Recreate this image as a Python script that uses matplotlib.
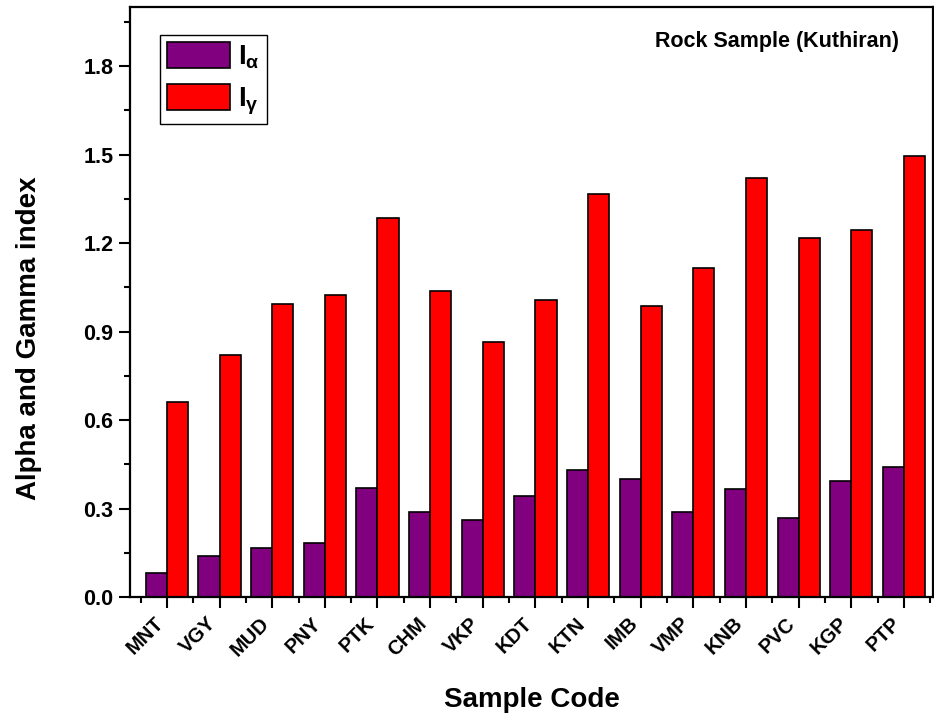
import numpy as np
import matplotlib.pyplot as plt
import matplotlib.transforms as mtransforms
from matplotlib.ticker import MultipleLocator, FixedLocator

plt.rcParams['font.family'] = ['Liberation Sans', 'DejaVu Sans']
plt.rcParams['font.weight'] = 'bold'
plt.rcParams['mathtext.fontset'] = 'custom'
plt.rcParams['mathtext.rm'] = 'Liberation Sans'
plt.rcParams['mathtext.bf'] = 'Liberation Sans:bold'
plt.rcParams['mathtext.it'] = 'Liberation Sans:italic'

# sample codes and indices
samples = ['MNT', 'VGY', 'MUD', 'PNY', 'PTK', 'CHM', 'VKP', 'KDT',
           'KTN', 'IMB', 'VMP', 'KNB', 'PVC', 'KGP', 'PTP']
i_alpha = [0.080, 0.140, 0.166, 0.184, 0.370, 0.289, 0.260, 0.343,
           0.430, 0.400, 0.289, 0.367, 0.269, 0.395, 0.441]
i_gamma = [0.662, 0.821, 0.993, 1.024, 1.285, 1.038, 0.864, 1.007,
           1.367, 0.987, 1.116, 1.421, 1.217, 1.243, 1.497]

x = np.arange(1, len(samples) + 1)
w = 0.4

fig = plt.figure(figsize=(9.34, 7.15), dpi=100)
ax = fig.add_axes([0.1392, 0.165, 0.8597, 0.825])

ax.bar(x - w / 2, i_alpha, w, color='#800080', edgecolor='black', linewidth=1.2,
       label=r'$\mathbf{I}_{\mathrm{\alpha}}$')
ax.bar(x + w / 2, i_gamma, w, color='#ff0000', edgecolor='black', linewidth=1.2,
       label=r'$\mathbf{I}_{\mathrm{\gamma}}$')

ax.set_xlim(0.3, 15.55)
ax.set_ylim(0, 2.0)

ax.yaxis.set_major_locator(FixedLocator(np.arange(0, 1.81, 0.3)))
ax.yaxis.set_minor_locator(FixedLocator(np.arange(0.15, 1.96, 0.3)))
ax.set_yticklabels([f'{v:.1f}' for v in np.arange(0, 1.81, 0.3)], fontsize=15.5, fontweight='bold')

ax.tick_params(which='major', direction='out', length=8, width=1.5, pad=4)
ax.tick_params(which='minor', direction='out', length=4.5, width=1.5)
ax.tick_params(top=False, right=False, which='both')

ax.set_xticks(x)
ax.xaxis.set_minor_locator(MultipleLocator(1, offset=0.5))
ax.set_xticklabels(samples, rotation=45, ha='right', rotation_mode='anchor',
                   fontsize=14.5, fontweight='bold')
# nudge the slanted labels a little to the left of their ticks
shift = mtransforms.ScaledTranslation(-0.13, 0, fig.dpi_scale_trans)
for lbl in ax.xaxis.get_majorticklabels():
    lbl.set_transform(lbl.get_transform() + shift)

for s in ax.spines.values():
    s.set_linewidth(1.6)

ax.set_xlabel('Sample Code', fontsize=20, fontweight='bold', labelpad=20)
ax.set_ylabel('Alpha and Gamma index', fontsize=20, fontweight='bold', labelpad=30)
ax.yaxis.label.set_y(0.439)

ax.text(0.958, 0.941, 'Rock Sample (Kuthiran)', transform=ax.transAxes,
        ha='right', va='center', fontsize=15.5, fontweight='bold')

leg = ax.legend(loc='upper left', bbox_to_anchor=(0.037, 0.953), borderaxespad=0,
                fontsize=20, handlelength=2.27, handleheight=1.1, fancybox=False,
                edgecolor='black', framealpha=1, borderpad=0.25, labelspacing=0.45,
                handletextpad=0.3)
leg.get_frame().set_linewidth(1.0)

fig.savefig('out.png', dpi=100)
